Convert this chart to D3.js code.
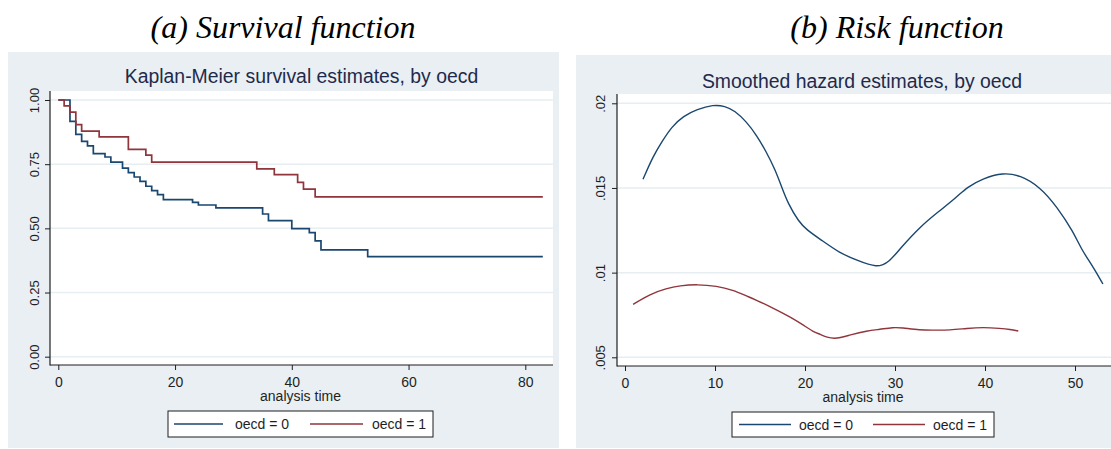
<!DOCTYPE html>
<html>
<head>
<meta charset="utf-8">
<script src="https://cdn.jsdelivr.net/npm/d3@7"></script>
<style>
  html, body { margin: 0; padding: 0; background: #ffffff; }
  svg { display: block; }
  text { font-family: "Liberation Sans", Arial, sans-serif; }
  text.caption { font-family: "Liberation Serif", "Times New Roman", serif; font-style: italic; }
</style>
</head>
<body>
<svg id="chart" width="1111" height="449"></svg>
<script>
// Kaplan-Meier step estimates: [analysis time, survival after the drop]
const kmOecd0 = [[0,1],[2,0.917],[3,0.866],[4,0.839],[5,0.821],[6,0.791],[8,0.778],[9,0.758],
  [11,0.735],[12,0.717],[13,0.700],[14,0.683],[15,0.664],[16,0.647],[17,0.631],[18,0.612],
  [23,0.601],[24,0.591],[27,0.580],[35,0.556],[36,0.530],[40,0.499],[43,0.483],[44,0.451],
  [45,0.416],[53,0.390],[83,0.390]];
const kmOecd1 = [[0,1],[1,0.977],[2,0.953],[3,0.904],[4,0.879],[7,0.856],[12,0.808],[15,0.785],
  [16,0.758],[34,0.732],[37,0.709],[41,0.679],[42,0.653],[44,0.623],[83,0.623]];

// Smoothed hazard estimates: [analysis time, hazard]
const hazOecd0 = [[2.0,0.01551],[3.1,0.01685],[4.1,0.01773],[5.2,0.01862],[6.5,0.01925],[8.0,0.01964],
  [9.8,0.01992],[11.1,0.01984],[12.2,0.01956],[13.5,0.01891],[14.6,0.01813],[15.7,0.01714],
  [16.7,0.01606],[17.4,0.01507],[18.1,0.01409],[19.3,0.01301],[20.2,0.01252],[21.7,0.01197],
  [23.9,0.01114],[25.7,0.01075],[28.0,0.01026],[29.4,0.01065],[30.5,0.01138],[32.8,0.01271],
  [34.6,0.01350],[36.9,0.01448],[38.0,0.01504],[39.8,0.01557],[42.0,0.01590],[43.9,0.01576],
  [46.1,0.01507],[48.0,0.01389],[49.8,0.01242],[50.7,0.01138],[52.0,0.01035],[53.1,0.00933]];
const hazOecd1 = [[0.9,0.00813],[2.8,0.00874],[4.6,0.00907],[6.1,0.00923],[8.0,0.00931],[10.2,0.00921],
  [12.0,0.00897],[13.5,0.00862],[14.6,0.00838],[16.5,0.00789],[18.3,0.00740],[19.8,0.00691],
  [20.9,0.00651],[21.7,0.00636],[22.4,0.00618],[23.5,0.00608],[25.0,0.00632],[26.9,0.00657],
  [28.3,0.00665],[29.8,0.00677],[30.7,0.00675],[32.8,0.00660],[34.3,0.00661],[36.1,0.00660],
  [38.0,0.00671],[39.8,0.00677],[41.7,0.00671],[42.8,0.00665],[43.7,0.00655]];

const kmYTicks = [0, 0.25, 0.5, 0.75, 1];
const kmXTicks = [0, 20, 40, 60, 80];
const hzYTicks = [0.005, 0.01, 0.015, 0.02];
const hzXTicks = [0, 10, 20, 30, 40, 50];
const seriesLabels = ["oecd = 0", "oecd = 1"];
const colors = ["#1a476f", "#90353b"];

const svg = d3.select("#chart");
const BG = "#e9eff2", GRID = "#e6eef1", INK = "#1f1f1f", TITLE_INK = "#1e2a4c";

function panel(cfg) {
  const g = svg.append("g");
  // outer graph region
  g.append("rect").attr("x", cfg.bg[0]).attr("y", cfg.bg[1])
    .attr("width", cfg.bg[2] - cfg.bg[0]).attr("height", cfg.bg[3] - cfg.bg[1]).attr("fill", BG);
  // plot region
  const p = cfg.plot;
  g.append("rect").attr("x", p[0]).attr("y", p[1]).attr("width", p[2] - p[0]).attr("height", p[3] - p[1]).attr("fill", "#fff");

  const x = d3.scaleLinear().domain(cfg.xDomain).range(cfg.xRange);
  const y = d3.scaleLinear().domain(cfg.yDomain).range(cfg.yRange);

  // horizontal grid
  g.append("g").selectAll("line").data(cfg.yTicks).join("line")
    .attr("x1", p[0]).attr("x2", p[2]).attr("y1", d => y(d)).attr("y2", d => y(d))
    .attr("stroke", GRID).attr("stroke-width", 1.5);

  // series
  const clipId = "clip" + cfg.id;
  g.append("clipPath").attr("id", clipId).append("rect")
    .attr("x", p[0]).attr("y", p[1]).attr("width", p[2] - p[0]).attr("height", p[3] - p[1]);
  const line = d3.line().x(d => x(d[0])).y(d => y(d[1])).curve(cfg.curve);
  cfg.series.forEach((s, i) => {
    g.append("path").attr("d", line(s)).attr("fill", "none")
      .attr("stroke", colors[i]).attr("stroke-width", cfg.lw)
      .attr("stroke-linejoin", "miter").attr("clip-path", `url(#${clipId})`);
  });

  // axes
  const yAxis = d3.axisLeft(y).tickValues(cfg.yTicks).tickSize(5).tickFormat(cfg.yFmt);
  const ya = g.append("g").attr("transform", `translate(${p[0]},0)`).call(yAxis);
  ya.select(".domain").remove();
  ya.selectAll(".tick line").attr("stroke", INK);
  ya.selectAll(".tick text").attr("fill", INK).attr("font-size", cfg.yFont)
    .attr("x", null).attr("dy", null).attr("text-anchor", "middle")
    .attr("transform", `translate(${cfg.yLabelX - p[0]},0) rotate(-90)`);

  const xAxis = d3.axisBottom(x).tickValues(cfg.xTicks).tickSize(5).tickFormat(d3.format("d"));
  const xa = g.append("g").attr("transform", `translate(0,${p[3]})`).call(xAxis);
  xa.select(".domain").remove();
  xa.selectAll(".tick line").attr("stroke", INK);
  xa.selectAll(".tick text").attr("fill", INK).attr("font-size", 14)
    .attr("y", null).attr("dy", null).attr("transform", `translate(0,${cfg.xLabelY - p[3]})`);

  g.append("line").attr("x1", p[0]).attr("x2", p[0]).attr("y1", p[1]).attr("y2", p[3] + 0.5)
    .attr("stroke", INK).attr("stroke-width", 1.2);
  g.append("line").attr("x1", p[0]).attr("x2", p[2]).attr("y1", p[3]).attr("y2", p[3])
    .attr("stroke", INK).attr("stroke-width", 1.2);

  // titles
  g.append("text").attr("x", (p[0] + p[2]) / 2 + cfg.titleDx).attr("y", cfg.titleY)
    .attr("text-anchor", "middle").attr("font-size", 19.4).attr("fill", TITLE_INK).text(cfg.title);
  g.append("text").attr("x", (p[0] + p[2]) / 2 + cfg.xTitleDx).attr("y", cfg.xTitleY)
    .attr("text-anchor", "middle").attr("font-size", 14).attr("fill", INK).text("analysis time");
  svg.append("text").attr("class", "caption").attr("x", cfg.capX).attr("y", 38).attr("text-anchor", "middle")
    .attr("font-size", 32).attr("fill", "#000").text(cfg.caption);

  // legend
  const L = cfg.legend;
  const lg = g.append("g");
  lg.append("rect").attr("x", L.box[0]).attr("y", L.box[1]).attr("width", L.box[2] - L.box[0])
    .attr("height", L.box[3] - L.box[1]).attr("fill", "#fff").attr("stroke", INK).attr("stroke-width", 1);
  const ly = (L.box[1] + L.box[3]) / 2;
  L.items.forEach((it, i) => {
    lg.append("line").attr("x1", it[0]).attr("x2", it[1]).attr("y1", ly).attr("y2", ly)
      .attr("stroke", colors[i]).attr("stroke-width", 1.5);
    lg.append("text").attr("x", it[2]).attr("y", ly + 5).attr("font-size", 14).attr("fill", INK).text(seriesLabels[i]);
  });
}

panel({
  id: "km", bg: [8, 52, 559, 448], plot: [50, 91, 553, 365],
  xDomain: [0, 80], xRange: [58.3, 525.3], yDomain: [0, 1], yRange: [356.7, 100],
  yTicks: kmYTicks, xTicks: kmXTicks, yFmt: d3.format(".2f"), yFont: 13, yLabelX: 39,
  xLabelY: 387, series: [kmOecd0, kmOecd1], curve: d3.curveStepAfter, lw: 1.7,
  title: "Kaplan-Meier survival estimates, by oecd", titleY: 83, titleDx: 0,
  xTitleY: 401, xTitleDx: -1, caption: "(a) Survival function", capX: 283,
  legend: { box: [168, 411, 433, 437], items: [[174, 223, 235], [310, 363, 372]] }
});

panel({
  id: "hz", bg: [576, 55, 1111, 448], plot: [617, 94, 1111, 366],
  xDomain: [0, 50], xRange: [625, 1075], yDomain: [0.005, 0.02], yRange: [357.3, 103.3],
  yTicks: hzYTicks, xTicks: hzXTicks, yFmt: d => d3.format(".3~f")(d).replace(/^0/, ""), yFont: 13, yLabelX: 605,
  xLabelY: 388, series: [hazOecd0, hazOecd1], curve: d3.curveBasis, lw: 1.4,
  title: "Smoothed hazard estimates, by oecd", titleY: 88, titleDx: -2,
  xTitleY: 402, xTitleDx: -1, caption: "(b) Risk function", capX: 897,
  legend: { box: [732, 412, 994, 437], items: [[739, 791, 799], [873, 925, 933]] }
});
</script>
</body>
</html>
